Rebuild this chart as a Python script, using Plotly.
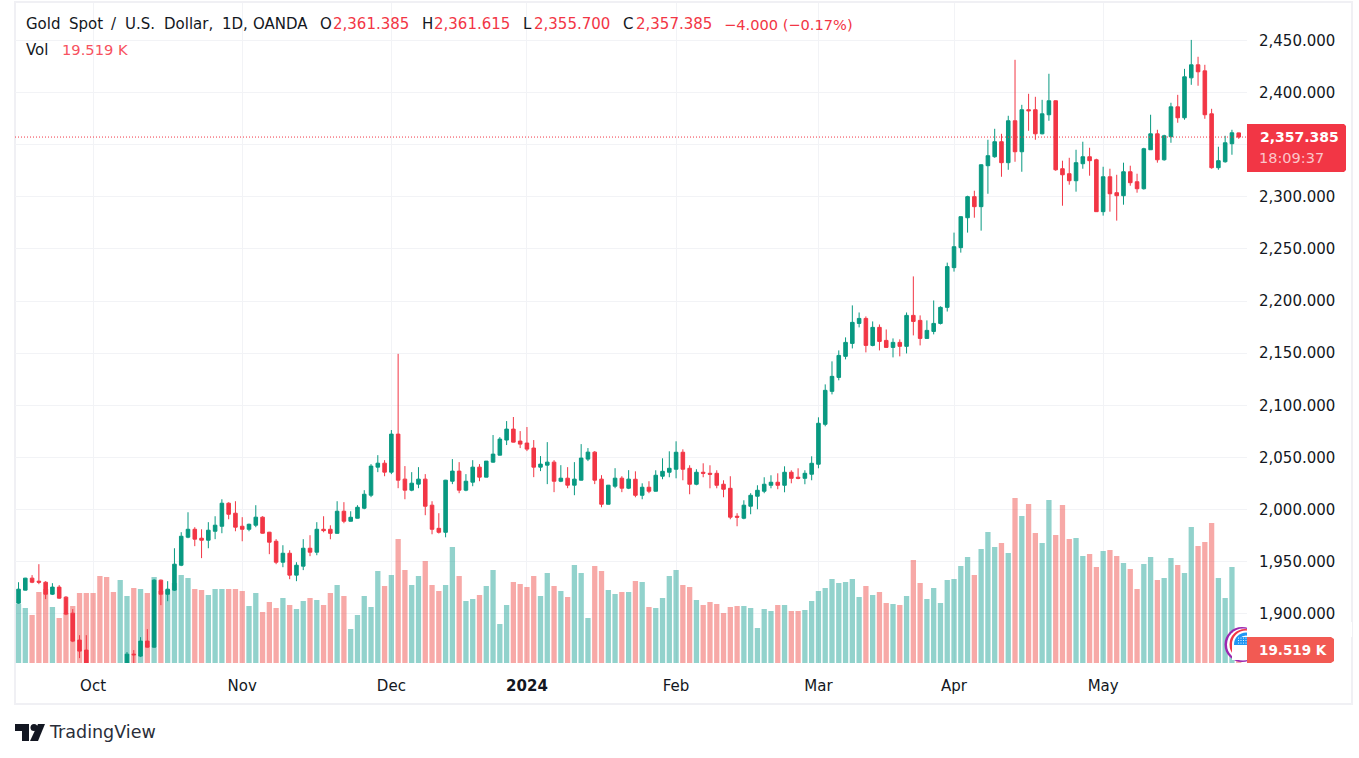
import plotly.graph_objects as go

opens = [1910.2,1922.7,1934.2,1931.3,1930.3,1918.8,1925.6,1916.0,1900.6,1874.8,
1865.2,1848.0,1828.0,1822.0,1821.0,1820.0,1832.0,1861.3,1859.4,1873.8,
1868.0,1932.3,1918.8,1922.7,1946.6,1973.5,1981.1,1972.5,1970.6,1979.2,
1984.0,2006.1,1996.5,1984.0,1981.1,1985.0,1992.7,1978.3,1969.6,1949.5,
1958.1,1937.1,1945.7,1962.9,1959.1,1981.1,1981.1,1977.2,1998.4,1988.8,
1991.7,2001.3,2013.8,2040.7,2044.5,2035.9,2072.4,2029.2,2018.6,2024.4,
2029.2,2004.2,1982.0,1978.2,2027.2,2036.9,2018.6,2026.3,2040.7,2031.1,
2045.5,2052.2,2066.7,2077.2,2065.7,2063.8,2059.0,2040.7,2042.6,2045.5,
2027.2,2030.1,2023.4,2028.2,2048.4,2055.1,2029.2,2005.1,2022.4,2030.1,
2020.5,2029.1,2013.7,2021.4,2017.6,2032.0,2035.8,2038.7,2055.0,2039.6,
2024.3,2035.8,2034.8,2034.8,2024.3,2020.4,1993.6,1991.7,2003.2,2012.8,
2017.6,2023.3,2026.2,2023.3,2035.8,2031.0,2030.0,2033.9,2043.5,2081.8,
2113.4,2126.8,2147.0,2159.4,2178.6,2183.4,2157.5,2174.8,2162.3,2155.6,
2160.4,2156.6,2186.3,2181.5,2164.2,2170.9,2178.6,2194.0,2232.1,2251.3,
2280.0,2300.2,2290.6,2329.9,2338.5,2352.9,2332.8,2373.0,2343.3,2383.6,
2383.6,2360.5,2378.8,2392.2,2327.0,2322.2,2315.5,2331.8,2338.5,2335.6,
2285.8,2319.3,2304.0,2301.1,2324.1,2314.5,2307.8,2345.2,2360.5,2335.6,
2357.7,2386.4,2375.9,2414.2,2426.7,2420.9,2379.7,2328.0,2333.7,2351.0,
2361.385]

highs = [1930.3,1934.5,1937.1,1947.6,1931.3,1929.4,1927.5,1916.9,1904.5,1879.5,
1879.5,1852.0,1835.0,1830.0,1826.0,1835.0,1863.3,1865.2,1877.6,1885.3,
1933.2,1932.8,1931.3,1962.9,1978.3,1997.4,1983.1,1981.1,1987.9,1993.6,
2009.9,2007.0,2008.0,1992.7,1986.5,2004.2,1993.6,1978.6,1971.6,1965.8,
1961.0,1949.5,1971.6,1975.4,1987.9,1993.6,1984.9,2008.0,2007.1,1998.4,
2004.2,2018.6,2043.6,2052.2,2047.4,2076.3,2149.4,2041.7,2035.9,2040.7,
2034.0,2008.0,1996.5,2028.5,2048.4,2045.5,2034.0,2047.4,2043.6,2046.6,
2071.5,2069.5,2084.9,2088.8,2075.3,2079.2,2066.7,2051.3,2064.7,2047.4,
2042.6,2040.7,2045.5,2062.8,2059.0,2056.1,2033.0,2023.6,2039.7,2032.0,
2037.8,2036.7,2025.2,2027.2,2037.7,2049.2,2055.9,2065.5,2057.8,2042.5,
2038.7,2044.4,2042.5,2037.7,2028.1,2032.0,1996.5,2008.9,2015.7,2023.3,
2031.0,2032.9,2034.8,2041.5,2037.7,2039.6,2037.7,2051.1,2088.5,2120.1,
2142.2,2152.7,2165.2,2195.9,2189.1,2185.3,2180.5,2177.6,2172.8,2164.2,
2163.3,2189.1,2223.7,2186.3,2181.5,2200.6,2195.0,2236.9,2265.7,2281.3,
2301.1,2305.9,2331.2,2354.8,2365.3,2360.5,2377.8,2431.5,2388.3,2398.9,
2396.0,2393.1,2418.1,2392.5,2334.7,2337.5,2345.2,2352.9,2347.1,2336.6,
2328.9,2327.0,2321.2,2332.8,2329.9,2322.2,2347.1,2378.8,2364.4,2359.6,
2390.3,2397.9,2422.8,2450.6,2434.4,2426.7,2384.5,2348.1,2358.6,2364.4,
2361.615]

lows = [1909.5,1922.5,1929.4,1928.4,1914.1,1918.0,1914.5,1898.7,1872.8,1857.5,
1845.0,1820.0,1815.0,1816.0,1813.0,1810.0,1826.0,1850.0,1858.5,1867.5,
1867.5,1908.3,1912.1,1922.0,1945.7,1972.5,1964.9,1953.4,1962.9,1971.6,
1977.3,1990.7,1979.2,1969.6,1979.2,1983.1,1977.0,1957.2,1947.6,1944.7,
1933.2,1931.3,1941.9,1955.3,1956.2,1978.2,1971.5,1977.0,1986.9,1988.5,
1991.5,2000.3,2011.9,2035.9,2032.0,2034.0,2020.5,2009.9,2017.6,2020.5,
1994.6,1976.3,1977.0,1973.4,2024.4,2015.7,2017.6,2022.4,2027.2,2031.0,
2045.0,2052.0,2061.9,2064.5,2059.0,2056.1,2031.1,2036.9,2024.4,2016.7,
2026.3,2020.5,2013.8,2028.0,2046.5,2024.4,2002.2,2005.0,2020.5,2016.7,
2019.6,2011.8,2009.9,2015.7,2017.4,2029.1,2031.0,2030.0,2028.1,2014.7,
2023.3,2031.0,2020.4,2020.4,2011.8,1990.7,1984.0,1990.7,1995.5,2000.3,
2015.7,2020.4,2019.5,2016.6,2025.2,2029.1,2024.3,2028.1,2039.6,2079.9,
2110.5,2124.0,2144.1,2154.6,2174.8,2150.8,2156.6,2152.7,2155.0,2146.0,
2147.0,2149.8,2167.1,2157.5,2164.0,2168.1,2177.6,2190.0,2228.3,2246.5,
2265.7,2280.0,2267.6,2303.0,2337.5,2319.3,2326.0,2333.7,2324.1,2363.4,
2354.8,2360.0,2373.0,2325.0,2291.5,2311.7,2305.0,2327.0,2320.3,2285.5,
2282.0,2285.8,2277.2,2292.5,2310.7,2304.0,2307.0,2345.0,2332.8,2334.7,
2351.9,2371.1,2374.0,2407.5,2406.6,2374.9,2327.0,2326.0,2332.8,2340.4,
2355.7]

closes = [1923.6,1934.2,1930.3,1930.3,1918.8,1925.6,1915.0,1899.7,1873.8,1864.2,
1848.0,1828.0,1822.0,1821.0,1820.0,1832.0,1861.3,1860.7,1873.8,1868.0,
1932.3,1918.8,1923.6,1947.6,1974.4,1981.1,1971.6,1970.6,1980.2,1985.0,
2006.1,1995.5,1983.1,1981.1,1985.9,1992.7,1977.3,1968.7,1949.5,1958.1,
1937.1,1946.6,1962.9,1959.1,1981.1,1979.8,1977.2,1998.4,1988.8,1992.6,
2002.2,2014.7,2041.7,2044.5,2035.9,2072.4,2028.2,2018.6,2025.3,2029.2,
2003.2,1981.1,1978.2,2028.2,2036.9,2018.6,2027.2,2040.7,2031.1,2046.5,
2053.2,2067.6,2077.2,2064.7,2062.8,2058.0,2040.7,2043.6,2045.5,2027.2,
2030.1,2023.4,2029.2,2049.4,2055.1,2028.2,2005.1,2023.4,2030.1,2020.5,
2029.2,2013.7,2021.4,2017.6,2032.9,2036.7,2039.6,2055.0,2038.7,2024.3,
2035.8,2034.8,2033.9,2023.3,2019.5,1992.7,1992.7,2004.2,2013.7,2018.5,
2024.3,2026.2,2023.3,2035.8,2030.0,2030.0,2034.8,2044.4,2082.8,2114.4,
2127.8,2147.9,2160.4,2179.6,2183.4,2157.5,2174.8,2161.3,2155.6,2160.4,
2156.6,2186.3,2180.5,2164.2,2171.9,2178.6,2194.0,2233.1,2252.2,2281.0,
2300.2,2290.6,2330.8,2339.5,2352.9,2332.8,2373.0,2343.3,2383.6,2382.6,
2360.5,2379.7,2392.2,2326.0,2321.2,2315.5,2332.8,2338.5,2334.7,2285.8,
2319.3,2303.0,2301.1,2324.1,2313.6,2307.8,2346.2,2360.5,2335.6,2358.6,
2386.4,2375.9,2415.2,2426.7,2420.0,2378.8,2328.0,2334.7,2351.9,2361.5,
2357.385]

volumes_k = [76,72,65,88,91,73,62,67,74,87,
87,87,104,103,88,100,84,92,91,87,
103,89,90,97,105,102,91,90,85,91,
91,91,91,89,74,87,68,78,72,82,
75,71,79,82,80,75,87,95,84,51,
65,84,73,109,94,105,141,110,95,104,
119,95,89,95,133,104,79,81,85,94,
110,56,75,98,96,93,104,84,107,94,
89,83,115,107,62,114,109,90,86,88,
88,99,98,73,72,82,104,110,95,93,
80,75,78,76,67,73,74,74,72,52,
71,69,75,75,69,69,70,79,89,92,
101,97,98,101,83,94,85,88,77,76,
75,84,120,97,81,92,77,100,101,114,
123,105,131,148,133,137,127,182,164,176,
147,137,180,145,175,141,142,124,126,113,
129,130,124,117,111,91,116,123,100,102,
122,115,107,153,134,138,157,102,82,113,
19.519]

month_ticks = [11, 33, 55, 75, 97, 118, 138, 160]
month_labels = ["Oct", "Nov", "Dec", "<b>2024</b>", "Feb", "Mar", "Apr", "May"]
price_ticks = [1900, 1950, 2000, 2050, 2100, 2150, 2200, 2250, 2300, 2350, 2400, 2450]
# the 2,350.000 label sits behind the last-price pill in the reference
price_labels = ["1,900.000", "1,950.000", "2,000.000", "2,050.000", "2,100.000", "2,150.000",
                "2,200.000", "2,250.000", "2,300.000", "", "2,400.000", "2,450.000"]

UP, DOWN = "#089981", "#F23645"
FONT = "DejaVu Sans"
INK = "#131722"
idx = list(range(len(closes)))
vol_colors = ["rgba(38,166,154,0.5)" if c >= o else "rgba(239,83,80,0.5)" for o, c in zip(opens, closes)]

def px(x): return (x - 15) / 1232
def py(y): return (663 - y) / 660

fig = go.Figure()
fig.add_trace(go.Bar(x=idx, y=volumes_k, marker=dict(color=vol_colors, line_width=0), width=0.78, yaxis="y", hoverinfo="skip"))
fig.add_trace(go.Candlestick(x=idx, open=opens, high=highs, low=lows, close=closes, yaxis="y2",
    increasing=dict(line=dict(color=UP, width=1), fillcolor=UP),
    decreasing=dict(line=dict(color=DOWN, width=1), fillcolor=DOWN),
    whiskerwidth=0))

shapes = []
def rect(x0, y0, x1, y1, fill, line=None, lw=0, layer="above"):
    shapes.append(dict(type="rect", xref="paper", yref="paper", x0=px(x0), x1=px(x1), y0=py(y0), y1=py(y1),
                       fillcolor=fill, line=dict(color=line or "rgba(0,0,0,0)", width=lw), layer=layer))
def circle(cx, cy, r, fill):
    shapes.append(dict(type="circle", xref="paper", yref="paper", x0=px(cx-r), x1=px(cx+r), y0=py(cy-r), y1=py(cy+r),
                       fillcolor=fill, line=dict(width=0), layer="above"))
def poly(points, fill):
    path = "M " + " L ".join(f"{px(a):.5f},{py(b):.5f}" for a, b in points) + " Z"
    shapes.append(dict(type="path", xref="paper", yref="paper", path=path, fillcolor=fill, line=dict(width=0), layer="above"))

# last price line
shapes.append(dict(type="line", xref="paper", yref="y2", x0=0, x1=1, y0=closes[-1], y1=closes[-1],
                   line=dict(color=DOWN, width=1, dash="1px,2px"), layer="above"))
# pane frame
rect(15, 2, 1352, 704, "rgba(0,0,0,0)", "#F0F0F4", 2, "below")
# flag badge
circle(1242, 644.5, 17.5, "#9C27B0"); circle(1243, 644.5, 16, "#FFFFFF"); circle(1245, 644.5, 15.5, "#F23645")
circle(1246, 644.5, 14, "#FFFFFF"); circle(1246, 644.5, 12, "#2196F3")
rect(1232, 645, 1247, 660, "#FFFFFF")
circle(1246, 644.5, 9, "#FFFFFF")
poly([(1238,637),(1247,637),(1247,645),(1236,645)], "#2196F3")
for fx in (1238.5, 1241, 1243.5, 1246):
    for fy in (638, 640.5, 643):
        circle(fx, fy, 0.6, "#FFFFFF")
rect(1247, 622, 1352, 637, "#FFFFFF")
# pills
poly([(1247,124),(1344,124),(1346,126),(1346,170),(1344,172),(1247,172)], DOWN)
poly([(1247,637),(1331,637),(1334,639),(1334,661),(1331,663),(1247,663)], "#F25A53")
# TV logo
poly([(15,724),(29,724),(29,741),(22,741),(22,731),(15,731)], INK)
circle(34, 727.5, 3.5, INK)
poly([(38,724),(45,724),(38,741),(30,741)], INK)

def note(x, y, text, color=INK, size=15, anchor="left"):
    return dict(xref="paper", yref="paper", x=px(x), y=py(y), text=text, showarrow=False, borderpad=0, borderwidth=0,
                xanchor=anchor, yanchor="middle", font=dict(family=FONT, size=size, color=color))

annotations = [
    note(26, 24, "Gold"), note(69, 24, "Spot"), note(111, 24, "/"), note(125, 24, "U.S."), note(164, 24, "Dollar,"),
    note(222, 24, "1D,"), note(253, 24, "OANDA"),
    note(320, 24, "O"), note(333, 24, "2,361.385", DOWN),
    note(422, 24, "H"), note(434, 24, "2,361.615", DOWN),
    note(523, 24, "L"), note(534, 24, "2,355.700", DOWN),
    note(623, 24, "C"), note(636, 24, "2,357.385", DOWN),
    note(724, 24, "−4.000 (−0.17%)", DOWN, 14.6),
    note(26, 50, "Vol"), note(62, 50, "19.519 K", "#F7525F", 14.7),
    note(1299, 137, "<b>2,357.385</b>", "#FFFFFF", 14, "center"),
    note(1259, 157.5, "18:09:37", "rgba(255,255,255,0.72)", 14.5),
    note(1293, 650, "<b>19.519 K</b>", "#FFFFFF", 13.5, "center"),
    note(49, 732, "TradingView", "#2A2E39", 17.5),
]

fig.update_layout(
    width=1359, height=758, autosize=False,
    margin=dict(l=15, r=112, t=3, b=95),
    paper_bgcolor="#FFFFFF", plot_bgcolor="#FFFFFF", showlegend=False, hovermode=False,
    boxgap=0.25, bargap=0.2,
    font=dict(family=FONT, size=14, color=INK),
    shapes=shapes, annotations=annotations,
    xaxis=dict(range=[-0.52, 181.22], tickvals=month_ticks, ticktext=month_labels, showgrid=True, gridcolor="#F2F3F6",
               gridwidth=1, zeroline=False, showline=False, ticks="", rangeslider=dict(visible=False),
               ticklabelstandoff=12, tickangle=0, tickfont=dict(family=FONT, size=15, color=INK)),
    yaxis=dict(range=[17, 677], visible=False, showgrid=False, zeroline=False),
    yaxis2=dict(overlaying="y", side="right", range=[1852.8, 2486], tickvals=price_ticks, ticktext=price_labels,
                showgrid=True, gridcolor="#F2F3F6", gridwidth=1, zeroline=False, showline=False, ticks="",
                ticklabelstandoff=11, tickfont=dict(family=FONT, size=15, color=INK)),
)

fig.write_html("out.html", config=dict(displayModeBar=False), post_script="document.body.style.margin='0';")
